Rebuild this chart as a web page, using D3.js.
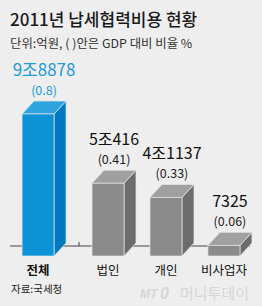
<!DOCTYPE html>
<html>
<head>
<meta charset="utf-8">
<script src="https://cdn.jsdelivr.net/npm/d3@7"></script>
<style>
  body { margin: 0; background: #eeeeee; }
  svg { display: block; }
  text { font-family: "Noto Sans CJK KR", sans-serif; }
  .num { font-family: "Liberation Sans Narrow", "Noto Sans CJK KR", sans-serif; }
</style>
</head>
<body>
<svg id="chart" width="262" height="306"></svg>
<script>
// 2011년 납세협력비용 (억원), GDP 대비 비율 (%)
var categories = ["전체", "법인", "개인", "비사업자"];
var valueLabels = ["9조8878", "5조416", "4조1137", "7325"];
var ratios = [0.8, 0.41, 0.33, 0.06];
var ratioLabels = ["(0.8)", "(0.41)", "(0.33)", "(0.06)"];

var svg = d3.select("#chart"),
    width = +svg.attr("width"),
    height = +svg.attr("height"),
    floor = 256,     // bottom of the front faces
    depthX = 12,
    depthY = 13,
    totalGap = 12;   // the total bar sits a bit further left

svg.append("rect")
    .attr("width", width)
    .attr("height", height)
    .attr("fill", "#eeeeee");

var x = d3.scaleBand()
    .domain(categories)
    .range([21, 253])
    .paddingInner(0.448)
    .paddingOuter(0.225);

var y = d3.scaleLinear()
    .domain([0, 0.8])
    .range([floor, 114]);

function left(d, i) { return x(d) - (i === 0 ? totalGap : 0); }

// title
svg.append("text")
    .attr("x", 10).attr("y", 26)
    .attr("font-size", 17)
    .attr("font-weight", 500)
    .attr("fill", "#1a1a1a")
    .text("2011년 납세협력비용 현황");

svg.append("text")
    .attr("x", 10).attr("y", 48)
    .attr("font-size", 12.4)
    .attr("fill", "#333")
    .text("단위:억원, ( )안은 GDP 대비 비율 %");

// baseline behind the boxes
var baseY = floor - 10;
svg.append("line")
    .attr("x1", 10).attr("x2", 250)
    .attr("y1", baseY).attr("y2", baseY)
    .attr("stroke", "#444").attr("stroke-width", 1);
var tickX = (left(categories[0], 0) + x.bandwidth() + depthX + x(categories[1])) / 2;
svg.append("line")
    .attr("x1", tickX).attr("x2", tickX)
    .attr("y1", baseY).attr("y2", baseY - 4)
    .attr("stroke", "#444").attr("stroke-width", 1);

var colors = [
  { front: "#0c93d5", top: "#2ea3de", side: "#0079c2" },
  { front: "#8a8a8a", top: "#a0a0a0", side: "#6c6c6c" }
];

var bars = svg.selectAll("g.bar")
    .data(categories)
  .enter().append("g")
    .attr("class", "bar");

bars.each(function(d, i) {
  var g = d3.select(this),
      c = i === 0 ? colors[0] : colors[1],
      x0 = left(d, i),
      x1 = x0 + x.bandwidth(),
      t = y(ratios[i]);

  // side
  g.append("path")
      .attr("d", "M" + x1 + "," + t + "L" + (x1 + depthX) + "," + (t - depthY) +
                 "L" + (x1 + depthX) + "," + (floor - depthY) + "L" + x1 + "," + floor + "Z")
      .attr("fill", c.side)
      .attr("stroke", "#e6e6e6").attr("stroke-width", 0.7);
  // top
  g.append("path")
      .attr("d", "M" + x0 + "," + t + "L" + (x0 + depthX) + "," + (t - depthY) +
                 "L" + (x1 + depthX) + "," + (t - depthY) + "L" + x1 + "," + t + "Z")
      .attr("fill", c.top)
      .attr("stroke", "#e6e6e6").attr("stroke-width", 0.7);
  // front
  g.append("rect")
      .attr("x", x0).attr("y", t)
      .attr("width", x.bandwidth())
      .attr("height", floor - t)
      .attr("fill", c.front)
      .attr("stroke", "#e6e6e6").attr("stroke-width", 0.7);

  var cx = x0 + (x.bandwidth() + depthX) / 2,
      labelY = t - depthY - 6,
      blue = i === 0;

  g.append("text")
      .attr("class", "num")
      .attr("x", cx).attr("y", labelY)
      .attr("text-anchor", "middle")
      .attr("font-size", 12.5)
      .attr("fill", blue ? "#1b9ad8" : "#222")
      .text(ratioLabels[i]);

  g.append("text")
      .attr("class", "num")
      .attr("x", cx).attr("y", labelY - 19)
      .attr("text-anchor", "middle")
      .attr("font-size", blue ? 17 : 16)
      .attr("fill", blue ? "#1b9ad8" : "#111")
      .text(valueLabels[i]);

  g.append("text")
      .attr("x", x0 + x.bandwidth() / 2)
      .attr("y", 275)
      .attr("text-anchor", "middle")
      .attr("font-size", 12.5)
      .attr("font-weight", blue ? "bold" : "normal")
      .attr("fill", "#111")
      .text(d);
});

svg.append("text")
    .attr("x", 11).attr("y", 293)
    .attr("font-size", 10.5)
    .attr("fill", "#222")
    .text("자료:국세청");

// watermark
var wm = svg.append("g").attr("fill", "#d6d6d6");
wm.append("text")
    .attr("x", 140).attr("y", 298)
    .attr("font-size", 12)
    .attr("font-style", "italic")
    .attr("font-weight", "bold")
    .style("font-family", "Liberation Sans, sans-serif")
    .text("MT");
wm.append("text")
    .attr("x", 160).attr("y", 299)
    .attr("font-size", 16)
    .attr("font-style", "italic")
    .attr("font-weight", "bold")
    .style("font-family", "Liberation Sans, sans-serif")
    .text("0");
wm.append("text")
    .attr("x", 180).attr("y", 299)
    .attr("font-size", 15)
    .text("머니투데이");
</script>
</body>
</html>
